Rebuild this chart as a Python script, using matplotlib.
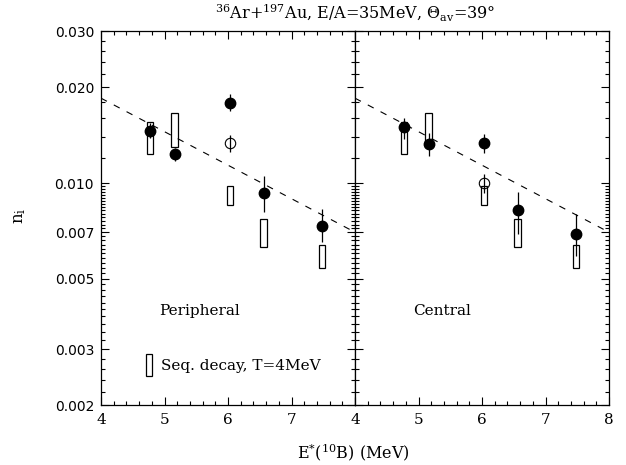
import numpy as np
import matplotlib
matplotlib.use("Agg")
import matplotlib.pyplot as plt
from matplotlib.patches import Rectangle
from matplotlib.ticker import FixedLocator, NullFormatter

# excitation energies of the 10B levels (MeV)
e_levels = [4.77, 5.16, 6.03, 6.56, 7.48]

# peripheral events: filled points with error ranges
per_ni = [0.0146, 0.0123, 0.0179, 0.0093, 0.0073]
per_lo = [0.0139, 0.0117, 0.0168, 0.0081, 0.0065]
per_hi = [0.0154, 0.0129, 0.0191, 0.0105, 0.0083]

# central events
cen_ni = [0.0150, 0.0133, 0.0134, 0.0082, 0.0069]
cen_lo = [0.0138, 0.0122, 0.0124, 0.0069, 0.0059]
cen_hi = [0.0160, 0.0144, 0.0143, 0.0094, 0.0080]

# open point at the 6.03 MeV level
open_e = 6.03
per_open = [0.0134, 0.0125, 0.0142]   # value, low, high
cen_open = [0.0100, 0.0093, 0.0107]

# sequential decay calculation, T = 4 MeV (low / high edge of each box)
seq_lo = [0.0123, 0.0130, 0.0085, 0.0063, 0.0054]
seq_hi = [0.0156, 0.0166, 0.0098, 0.0077, 0.0064]

# exponential fit drawn dashed across the full range
fit_e = [4.0, 8.0]
fit_ni = [0.0185, 0.0070]

serif = "DejaVu Serif"
plt.rcParams["mathtext.fontset"] = "dejavuserif"

fig = plt.figure(figsize=(6.26, 4.65), dpi=100)
ax1 = fig.add_axes([101 / 626, 60 / 465, 254 / 626, 373.5 / 465])
ax2 = fig.add_axes([355 / 626, 60 / 465, 254 / 626, 373.5 / 465], sharey=ax1)

panels = [
    (ax1, per_ni, per_lo, per_hi, per_open, "Peripheral"),
    (ax2, cen_ni, cen_lo, cen_hi, cen_open, "Central"),
]

yminor = list(np.arange(0.002, 0.01, 0.0002)) + list(np.arange(0.01, 0.03, 0.002))

for ax, ni, lo, hi, op, name in panels:
    ax.set_yscale("log")
    ax.set_xlim(4, 8)
    ax.set_ylim(0.002, 0.030)

    # sequential decay boxes
    heights = [h - l for l, h in zip(seq_lo, seq_hi)]
    ax.bar(e_levels, heights, bottom=seq_lo, width=0.1, fill=False,
           edgecolor="black", linewidth=0.9, zorder=2)

    ax.plot(fit_e, fit_ni, color="black", linewidth=0.8,
            dashes=(6, 7), zorder=1)

    yerr = [np.array(ni) - np.array(lo), np.array(hi) - np.array(ni)]
    ax.errorbar(e_levels, ni, yerr=yerr, fmt="o", color="black",
                markersize=7.5, elinewidth=0.9, capsize=0, zorder=3)
    ax.errorbar([open_e], [op[0]], yerr=[[op[0] - op[1]], [op[2] - op[0]]],
                fmt="o", mfc="none", mec="black", ecolor="black",
                markersize=7.5, mew=0.8, elinewidth=0.9, capsize=0, zorder=3)

    ax.text(4.91, 0.00395, name, family=serif, fontsize=11, va="center")

    ax.set_xticks([4, 5, 6, 7, 8])
    ax.xaxis.set_minor_locator(FixedLocator(np.arange(4, 8.01, 0.2)))
    ax.yaxis.set_major_locator(FixedLocator([0.002, 0.003, 0.005, 0.007, 0.01, 0.02, 0.03]))
    ax.yaxis.set_minor_locator(FixedLocator(yminor))
    ax.yaxis.set_minor_formatter(NullFormatter())
    ax.tick_params(which="both", direction="in", top=True, right=True, width=0.8)
    ax.tick_params(which="major", length=6)
    ax.tick_params(which="minor", length=3)
    ax.tick_params(axis="x", pad=6)
    for lab in ax.get_xticklabels():
        lab.set_family(serif)
        lab.set_fontsize(11)
    for s in ax.spines.values():
        s.set_linewidth(0.9)

ax1.set_xticklabels(["4", "5", "6", "7", ""])
ax1.set_yticklabels(["0.002", "0.003", "0.005", "0.007", "0.010", "0.020", "0.030"],
                    family="DejaVu Sans", fontsize=10)
ax1.tick_params(axis="y", pad=5)
ax2.tick_params(axis="y", labelleft=False)

# legend key for the calculation boxes
key = Rectangle((0, 0), 1, 1, fill=False, edgecolor="black", linewidth=0.9)
ax1.legend([key], ["Seq. decay, T=4MeV"], loc="center left",
           bbox_to_anchor=(0.176, 0.107), frameon=False, borderpad=0,
           borderaxespad=0, handlelength=0.4, handleheight=1.9,
           handletextpad=0.6, prop={"family": serif, "size": 11})

fig.text(355 / 626, 0.974, r"$^{36}$Ar+$^{197}$Au, E/A=35MeV, $\Theta_{\rm av}$=39°",
         family=serif, fontsize=11.5, ha="center", va="center")
fig.text(353 / 626, 0.028, r"E$^{*}$($^{10}$B) (MeV)", family=serif,
         fontsize=11.5, ha="center", va="center")
fig.text(20 / 626, 0.535, r"n$_{\rm i}$", family=serif, fontsize=12,
         rotation=90, ha="center", va="center")

fig.savefig("out.png", dpi=100)
